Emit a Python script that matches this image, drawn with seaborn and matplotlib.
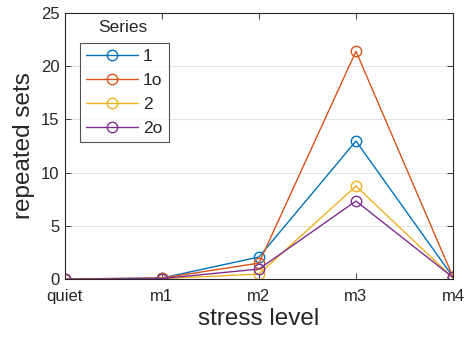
import matplotlib
matplotlib.use("Agg")
import matplotlib.pyplot as plt
import seaborn as sns
import pandas as pd

levels = ["quiet", "m1", "m2", "m3", "m4"]
series_names = ["1", "1o", "2", "2o"]
s1 = [0.0, 0.1, 2.07, 12.97, 0.2]
s1o = [0.0, 0.1, 1.5, 21.4, 0.2]
s2 = [0.0, 0.05, 0.47, 8.74, 0.1]
s2o = [0.0, 0.05, 0.94, 7.33, 0.15]
colors = ["#0072BD", "#D95319", "#EDB120", "#7E2F8E"]

rows = []
for name, vals in zip(series_names, [s1, s1o, s2, s2o]):
    for i, (lvl, v) in enumerate(zip(levels, vals)):
        rows.append({"x": i, "level": lvl, "value": v, "Series": name})
df = pd.DataFrame(rows)

sns.set_theme(style="white")
plt.rcParams["font.family"] = ["Liberation Sans", "DejaVu Sans"]

fig = plt.figure(figsize=(4.67, 3.42), dpi=100)
ax = fig.add_axes([0.139, 0.184, 0.831, 0.778])

sns.lineplot(data=df, x="x", y="value", hue="Series", palette=colors,
             marker="o", markersize=7.5, markerfacecolor="none", markeredgewidth=1.0,
             linewidth=1.0, ax=ax, legend=False)
for line, c in zip(ax.lines, colors):
    line.set_markeredgecolor(c)

ax.set_xlim(0, 4)
ax.set_ylim(0, 25)
ax.set_xticks(range(len(levels)))
ax.set_xticklabels(levels)
ax.set_yticks([0, 5, 10, 15, 20, 25])
ax.yaxis.grid(True, color="#e3e3e3", linewidth=0.8)
ax.set_axisbelow(True)
for sp in ax.spines.values():
    sp.set_color("#262626")
    sp.set_linewidth(0.8)
ax.tick_params(axis="both", direction="in", length=4, width=0.6, colors="#262626",
               labelsize=12, labelcolor="#262626", top=True, right=True, bottom=True, left=True)
ax.tick_params(axis="x", pad=7)
ax.tick_params(axis="y", pad=4)
ax.set_xlabel("stress level", fontsize=17.5, color="#262626", labelpad=3)
ax.set_ylabel("repeated sets", fontsize=17.5, color="#262626", labelpad=4)

handles = [plt.Line2D([], [], color=c, marker="o", markersize=7.5, markerfacecolor="none",
                      linewidth=1.0) for c in colors]
leg = ax.legend(handles, series_names, loc="upper left", bbox_to_anchor=(0.038, 0.887),
                frameon=True, fontsize=12.5, handlelength=3.0, handletextpad=0.3,
                labelspacing=0.5, borderpad=0.35, borderaxespad=0, fancybox=False)
leg.get_frame().set_edgecolor("#262626")
leg.get_frame().set_linewidth(0.8)
ax.text(0.148, 0.945, "Series", transform=ax.transAxes, ha="center", va="center",
        fontsize=12.5, color="#262626")

fig.savefig("out.png", dpi=100)
